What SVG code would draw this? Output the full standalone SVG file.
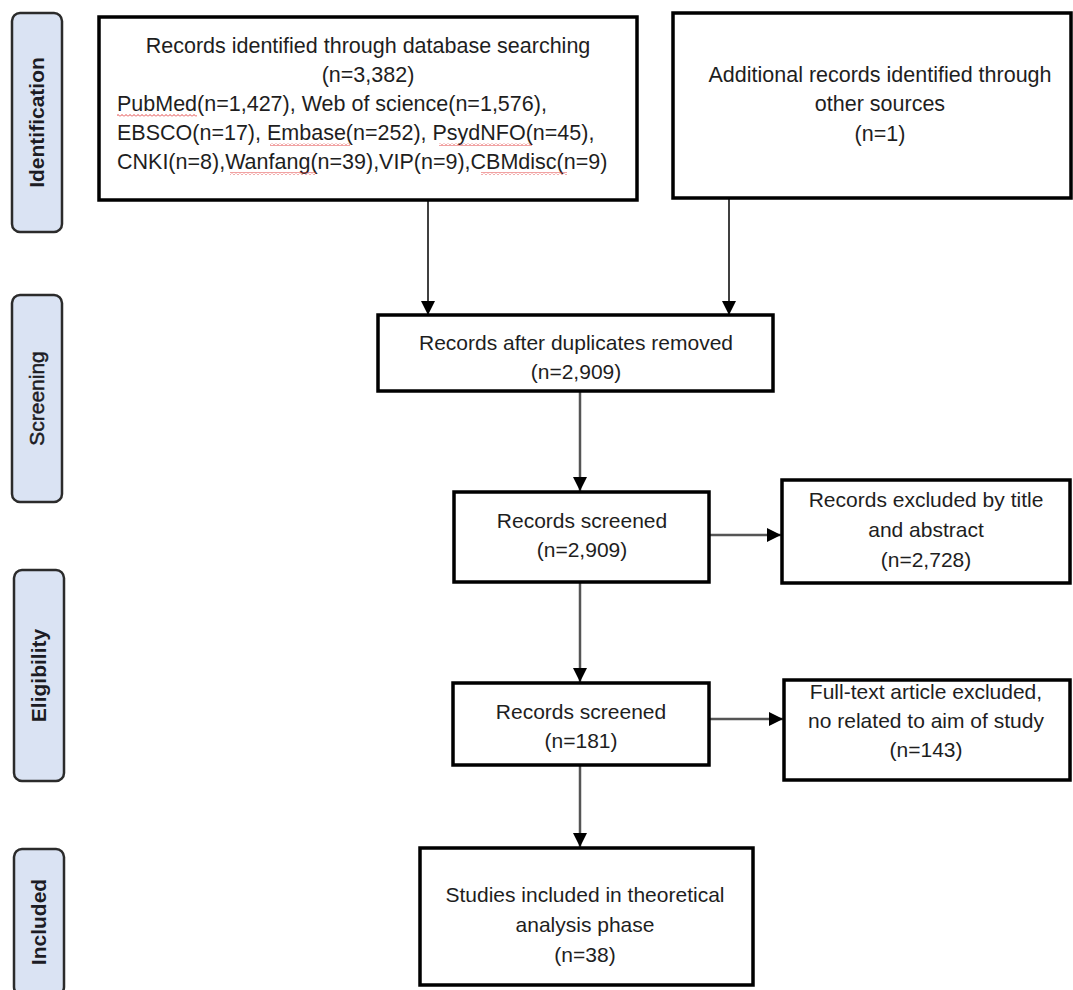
<svg xmlns="http://www.w3.org/2000/svg" width="1073" height="990" viewBox="0 0 1073 990">
<style>
.bg{fill:#ffffff}
.phase{fill:#dae3f3;stroke:#2b2b2b;stroke-width:2.5}
.plabel{font-family:"Liberation Sans",Arial,sans-serif;font-size:21px;font-weight:bold;fill:#1c1c24;text-anchor:middle}
.box{fill:#ffffff;stroke:#000000;stroke-width:3.5}
.t{font-family:"Liberation Sans",Arial,sans-serif;font-size:21px;fill:#1e1e1e;text-anchor:middle}
.tb{font-size:21.5px}
.tl{font-family:"Liberation Sans",Arial,sans-serif;font-size:21.5px;fill:#1e1e1e}
.c1{fill:none;stroke:#000000;stroke-width:1.5}
.c2{fill:none;stroke:#555555;stroke-width:2.5}
.sq{fill:url(#squig)}
</style>
<defs>
<marker id="ah" viewBox="0 0 10 10" refX="10" refY="5" markerWidth="14" markerHeight="14" markerUnits="userSpaceOnUse" orient="auto">
<path d="M0,0 L10,5 L0,10 z" fill="#000000"/>
</marker>
<pattern id="squig" x="0" y="0" width="4" height="3" patternUnits="userSpaceOnUse">
<path d="M0,2.5 L2,0.5 L4,2.5" fill="none" stroke="#e03030" stroke-width="0.9"/>
</pattern>
</defs>
<rect class="bg" x="0" y="0" width="1073" height="990"/>

<g id="phase-identification">
<rect class="phase" x="12" y="13" width="50" height="219" rx="8"/>
<text class="plabel" transform="translate(44,122.5) rotate(-90)">Identification</text>
</g>
<g id="phase-screening">
<rect class="phase" x="12" y="295" width="50" height="207" rx="8"/>
<text class="plabel" style="font-weight:normal;stroke:#1c1c24;stroke-width:0.5" transform="translate(44,398.5) rotate(-90)">Screening</text>
</g>
<g id="phase-eligibility">
<rect class="phase" x="14" y="570" width="50" height="211" rx="8"/>
<text class="plabel" transform="translate(46,675.5) rotate(-90)">Eligibility</text>
</g>
<g id="phase-included">
<rect class="phase" x="14" y="849" width="50" height="146" rx="8"/>
<text class="plabel" transform="translate(46,922) rotate(-90)">Included</text>
</g>

<g id="connectors">
<line class="c1" x1="428" y1="201" x2="428" y2="315" marker-end="url(#ah)"/>
<line class="c1" x1="729" y1="199" x2="729" y2="315" marker-end="url(#ah)"/>
<line class="c2" x1="580" y1="391" x2="580" y2="491" marker-end="url(#ah)"/>
<line class="c2" x1="709" y1="535" x2="781" y2="535" marker-end="url(#ah)"/>
<line class="c2" x1="580" y1="582" x2="580" y2="682" marker-end="url(#ah)"/>
<line class="c2" x1="709" y1="719" x2="783" y2="719" marker-end="url(#ah)"/>
<line class="c2" x1="580" y1="765" x2="580" y2="847" marker-end="url(#ah)"/>
</g>

<g id="node-database">
<rect class="box" x="99" y="17" width="538" height="183"/>
<text class="t tb" x="368" y="53">Records identified through database searching</text>
<text class="t tb" x="368" y="82">(n=3,382)</text>
<text class="tl" x="117" y="111">PubMed(n=1,427), Web of science(n=1,576),</text>
<text class="tl" x="117" y="140">EBSCO(n=17), Embase(n=252), PsydNFO(n=45),</text>
<text class="tl" x="117" y="169">CNKI(n=8),Wanfang(n=39),VIP(n=9),CBMdisc(n=9)</text>
<rect class="sq" x="117" y="114" width="80" height="3"/>
<rect class="sq" x="270" y="143" width="80" height="3"/>
<rect class="sq" x="439" y="143" width="93" height="3"/>
<rect class="sq" x="230" y="172" width="86" height="3"/>
<rect class="sq" x="481" y="172" width="86" height="3"/>
</g>

<g id="node-other">
<rect class="box" x="673" y="13" width="398" height="185"/>
<text class="t tb" x="880" y="82">Additional records identified through</text>
<text class="t tb" x="880" y="111">other sources</text>
<text class="t tb" x="880" y="141">(n=1)</text>
</g>

<g id="node-dedup">
<rect class="box" x="378" y="315" width="395" height="76"/>
<text class="t" x="576" y="350">Records after duplicates removed</text>
<text class="t" x="576" y="379">(n=2,909)</text>
</g>

<g id="node-screened1">
<rect class="box" x="454" y="492" width="255" height="90"/>
<text class="t" x="582" y="528">Records screened</text>
<text class="t" x="582" y="557">(n=2,909)</text>
</g>

<g id="node-excluded1">
<rect class="box" x="782" y="480" width="288" height="103"/>
<text class="t" x="926" y="507">Records excluded by title</text>
<text class="t" x="926" y="537">and abstract</text>
<text class="t" x="926" y="567">(n=2,728)</text>
</g>

<g id="node-screened2">
<rect class="box" x="453" y="683" width="256" height="82"/>
<text class="t" x="581" y="719">Records screened</text>
<text class="t" x="581" y="748">(n=181)</text>
</g>

<g id="node-excluded2">
<rect class="box" x="784" y="680" width="286" height="100"/>
<text class="t" x="926" y="699">Full-text article excluded,</text>
<text class="t" x="926" y="728">no related to aim of study</text>
<text class="t" x="926" y="757">(n=143)</text>
</g>

<g id="node-included">
<rect class="box" x="420" y="848" width="333" height="137"/>
<text class="t" x="585" y="902">Studies included in theoretical</text>
<text class="t" x="585" y="932">analysis phase</text>
<text class="t" x="585" y="962">(n=38)</text>
</g>
</svg>
